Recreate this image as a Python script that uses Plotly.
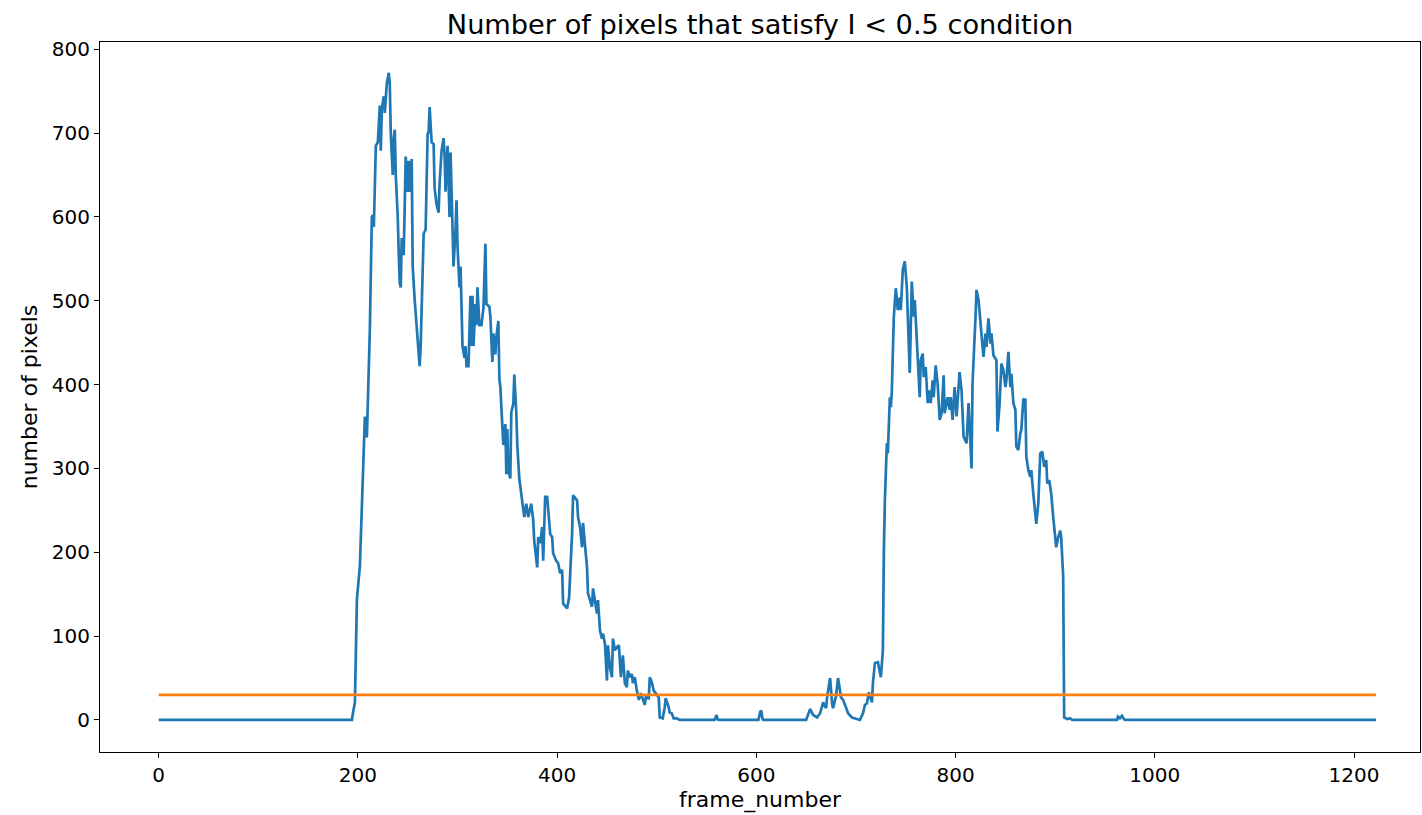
import plotly.graph_objects as go

# Frame numbers (x) and number of dark pixels (y)
frame_number = [
    0, 194, 195, 196, 197, 199, 202, 207, 209, 212,
    214, 215, 216, 218, 220, 222, 223, 224, 226, 227,
    229, 231, 232, 233, 235, 236, 237, 238, 240, 241,
    242, 243, 244, 245, 246, 248, 250, 251, 252, 254,
    255, 257, 260, 262, 263, 265, 266, 268, 270, 271,
    272, 274, 276, 277, 279, 281, 282, 284, 286, 287,
    288, 290, 291, 292, 293, 294, 296, 298, 299, 300,
    302, 303, 305, 307, 308, 309, 311, 313, 314, 315,
    316, 318, 319, 320, 322, 324, 326, 328, 329, 332,
    333, 335, 336, 338, 339, 341, 342, 343, 344, 346,
    348, 349, 350, 351, 353, 354, 356, 357, 359, 360,
    362, 364, 367, 369, 371, 374, 376, 377, 380, 381,
    383, 385, 386, 388, 390, 393, 395, 396, 399, 401,
    403, 405, 406, 410, 412, 415, 416, 420, 421, 423,
    425, 426, 428, 430, 431, 433, 435, 436, 438, 440,
    441, 443, 445, 446, 448, 450, 451, 453, 455, 456,
    458, 460, 462, 464, 466, 468, 470, 471, 473, 475,
    476, 478, 480, 482, 484, 486, 488, 489, 492, 493,
    495, 497, 499, 502, 503, 506, 508, 509, 512, 513,
    515, 517, 520, 523, 558, 560, 561, 562, 602, 604,
    605, 606, 607, 650, 654, 657, 661, 664, 667, 670,
    671, 674, 676, 677, 680, 682, 685, 687, 690, 692,
    696, 704, 707, 709, 711, 713, 716, 717, 719, 722,
    725, 727, 728, 729, 731, 732, 734, 735, 736, 737,
    738, 740, 742, 744, 745, 747, 749, 751, 753, 754,
    756, 758, 759, 761, 764, 765, 767, 768, 770, 772,
    774, 775, 777, 778, 780, 782, 784, 786, 788, 789,
    792, 794, 795, 797, 799, 801, 804, 806, 808, 811,
    813, 816, 817, 820, 821, 823, 825, 826, 828, 830,
    831, 833, 835, 836, 838, 841, 842, 844, 846, 848,
    850, 851, 853, 855, 856, 858, 860, 861, 863, 865,
    866, 868, 870, 871, 873, 875, 876, 878, 880, 881,
    883, 885, 887, 889, 891, 892, 894, 896, 898, 901,
    903, 905, 906, 907, 908, 909, 912, 915, 917, 962,
    963, 965, 967, 969, 970, 1222,
]

pixel_count = [
    0, 0, 8, 18, 21, 144, 184, 362, 337, 466,
    600, 602, 588, 685, 689, 733, 679, 729, 744, 724,
    759, 772, 759, 699, 650, 694, 704, 650, 600, 556,
    521, 516, 575, 556, 556, 672, 630, 667, 630, 669,
    541, 501, 446, 422, 446, 526, 580, 585, 699, 701,
    731, 689, 687, 634, 615, 605, 640, 679, 694, 674,
    630, 685, 650, 600, 677, 634, 541, 585, 620, 565,
    516, 541, 446, 432, 446, 422, 422, 506, 446, 506,
    446, 496, 471, 516, 471, 471, 491, 568, 496, 493,
    481, 427, 461, 436, 457, 476, 407, 397, 377, 328,
    353, 293, 347, 298, 288, 367, 377, 412, 367, 328,
    288, 268, 242, 258, 242, 258, 238, 214, 182, 218,
    211, 230, 190, 266, 266, 222, 218, 199, 190, 187,
    175, 179, 139, 133, 146, 222, 268, 262, 242, 230,
    206, 235, 203, 182, 151, 143, 135, 157, 139, 127,
    143, 107, 97, 103, 91, 47, 89, 63, 51, 97,
    83, 87, 89, 51, 77, 44, 39, 59, 51, 55,
    44, 51, 35, 24, 32, 26, 18, 27, 26, 51,
    45, 35, 32, 27, 3, 2, 15, 26, 15, 9,
    8, 2, 2, 0, 0, 6, 1, 0, 0, 10,
    11, 2, 0, 0, 13, 6, 3, 8, 21, 14,
    27, 50, 20, 14, 29, 50, 27, 24, 15, 8,
    3, 0, 8, 18, 20, 33, 21, 44, 68, 69,
    51, 83, 202, 262, 330, 318, 385, 373, 393, 449,
    481, 515, 489, 504, 489, 537, 547, 517, 445, 414,
    523, 481, 501, 449, 385, 429, 437, 409, 421, 378,
    393, 378, 405, 385, 423, 401, 358, 366, 411, 366,
    385, 370, 385, 358, 397, 362, 415, 393, 338, 330,
    378, 300, 401, 481, 513, 501, 477, 457, 433, 461,
    445, 479, 449, 461, 435, 429, 344, 374, 425, 417,
    397, 405, 439, 397, 413, 378, 370, 326, 322, 342,
    346, 382, 382, 314, 298, 290, 298, 270, 246, 234,
    258, 318, 320, 302, 310, 282, 286, 270, 242, 206,
    218, 226, 218, 194, 171, 3, 1, 2, 0, 0,
    4, 2, 5, 1, 0, 0,
]

threshold_frames = [0, 1222]
threshold_values = [30, 30]

x_ticks = [0, 200, 400, 600, 800, 1000, 1200]
y_ticks = [0, 100, 200, 300, 400, 500, 600, 700, 800]

FONT = "DejaVu Sans"

fig = go.Figure()
fig.add_trace(go.Scatter(
    x=frame_number, y=pixel_count, mode="lines",
    line=dict(color="#1f77b4", width=2.7), showlegend=False,
))
fig.add_trace(go.Scatter(
    x=threshold_frames, y=threshold_values, mode="lines",
    line=dict(color="#ff7f0e", width=2.7), showlegend=False,
))

axis_common = dict(
    showline=True, mirror=True, linecolor="#000000", linewidth=1.1,
    showgrid=False, zeroline=False,
    ticks="outside", ticklen=5, tickwidth=1.1, tickcolor="#000000",
    tickfont=dict(family=FONT, size=20, color="#000000"),
)

fig.update_layout(
    width=1422, height=815,
    margin=dict(l=100, r=2, t=42, b=63),
    paper_bgcolor="white", plot_bgcolor="white",
    font=dict(family=FONT, color="#000000"),
    title=dict(
        text="Number of pixels that satisfy I < 0.5 condition",
        font=dict(family=FONT, size=27.2, color="#000000"),
        x=0.5, xref="paper", xanchor="center",
        y=1 - 24 / 815, yref="container", yanchor="middle",
    ),
    xaxis=dict(
        range=[-58.9, 1266.2], tickvals=x_ticks,
        title=dict(text="frame_number", font=dict(family=FONT, size=22, color="#000000"), standoff=4),
        **axis_common,
    ),
    yaxis=dict(
        range=[-38.2, 808.7], tickvals=y_ticks,
        title=dict(text="number of pixels", font=dict(family=FONT, size=22, color="#000000"), standoff=8),
        **axis_common,
    ),
)

fig.write_html(
    "out.html",
    config={"displayModeBar": False},
    post_script="document.body.style.margin='0';document.body.style.padding='0';",
)
